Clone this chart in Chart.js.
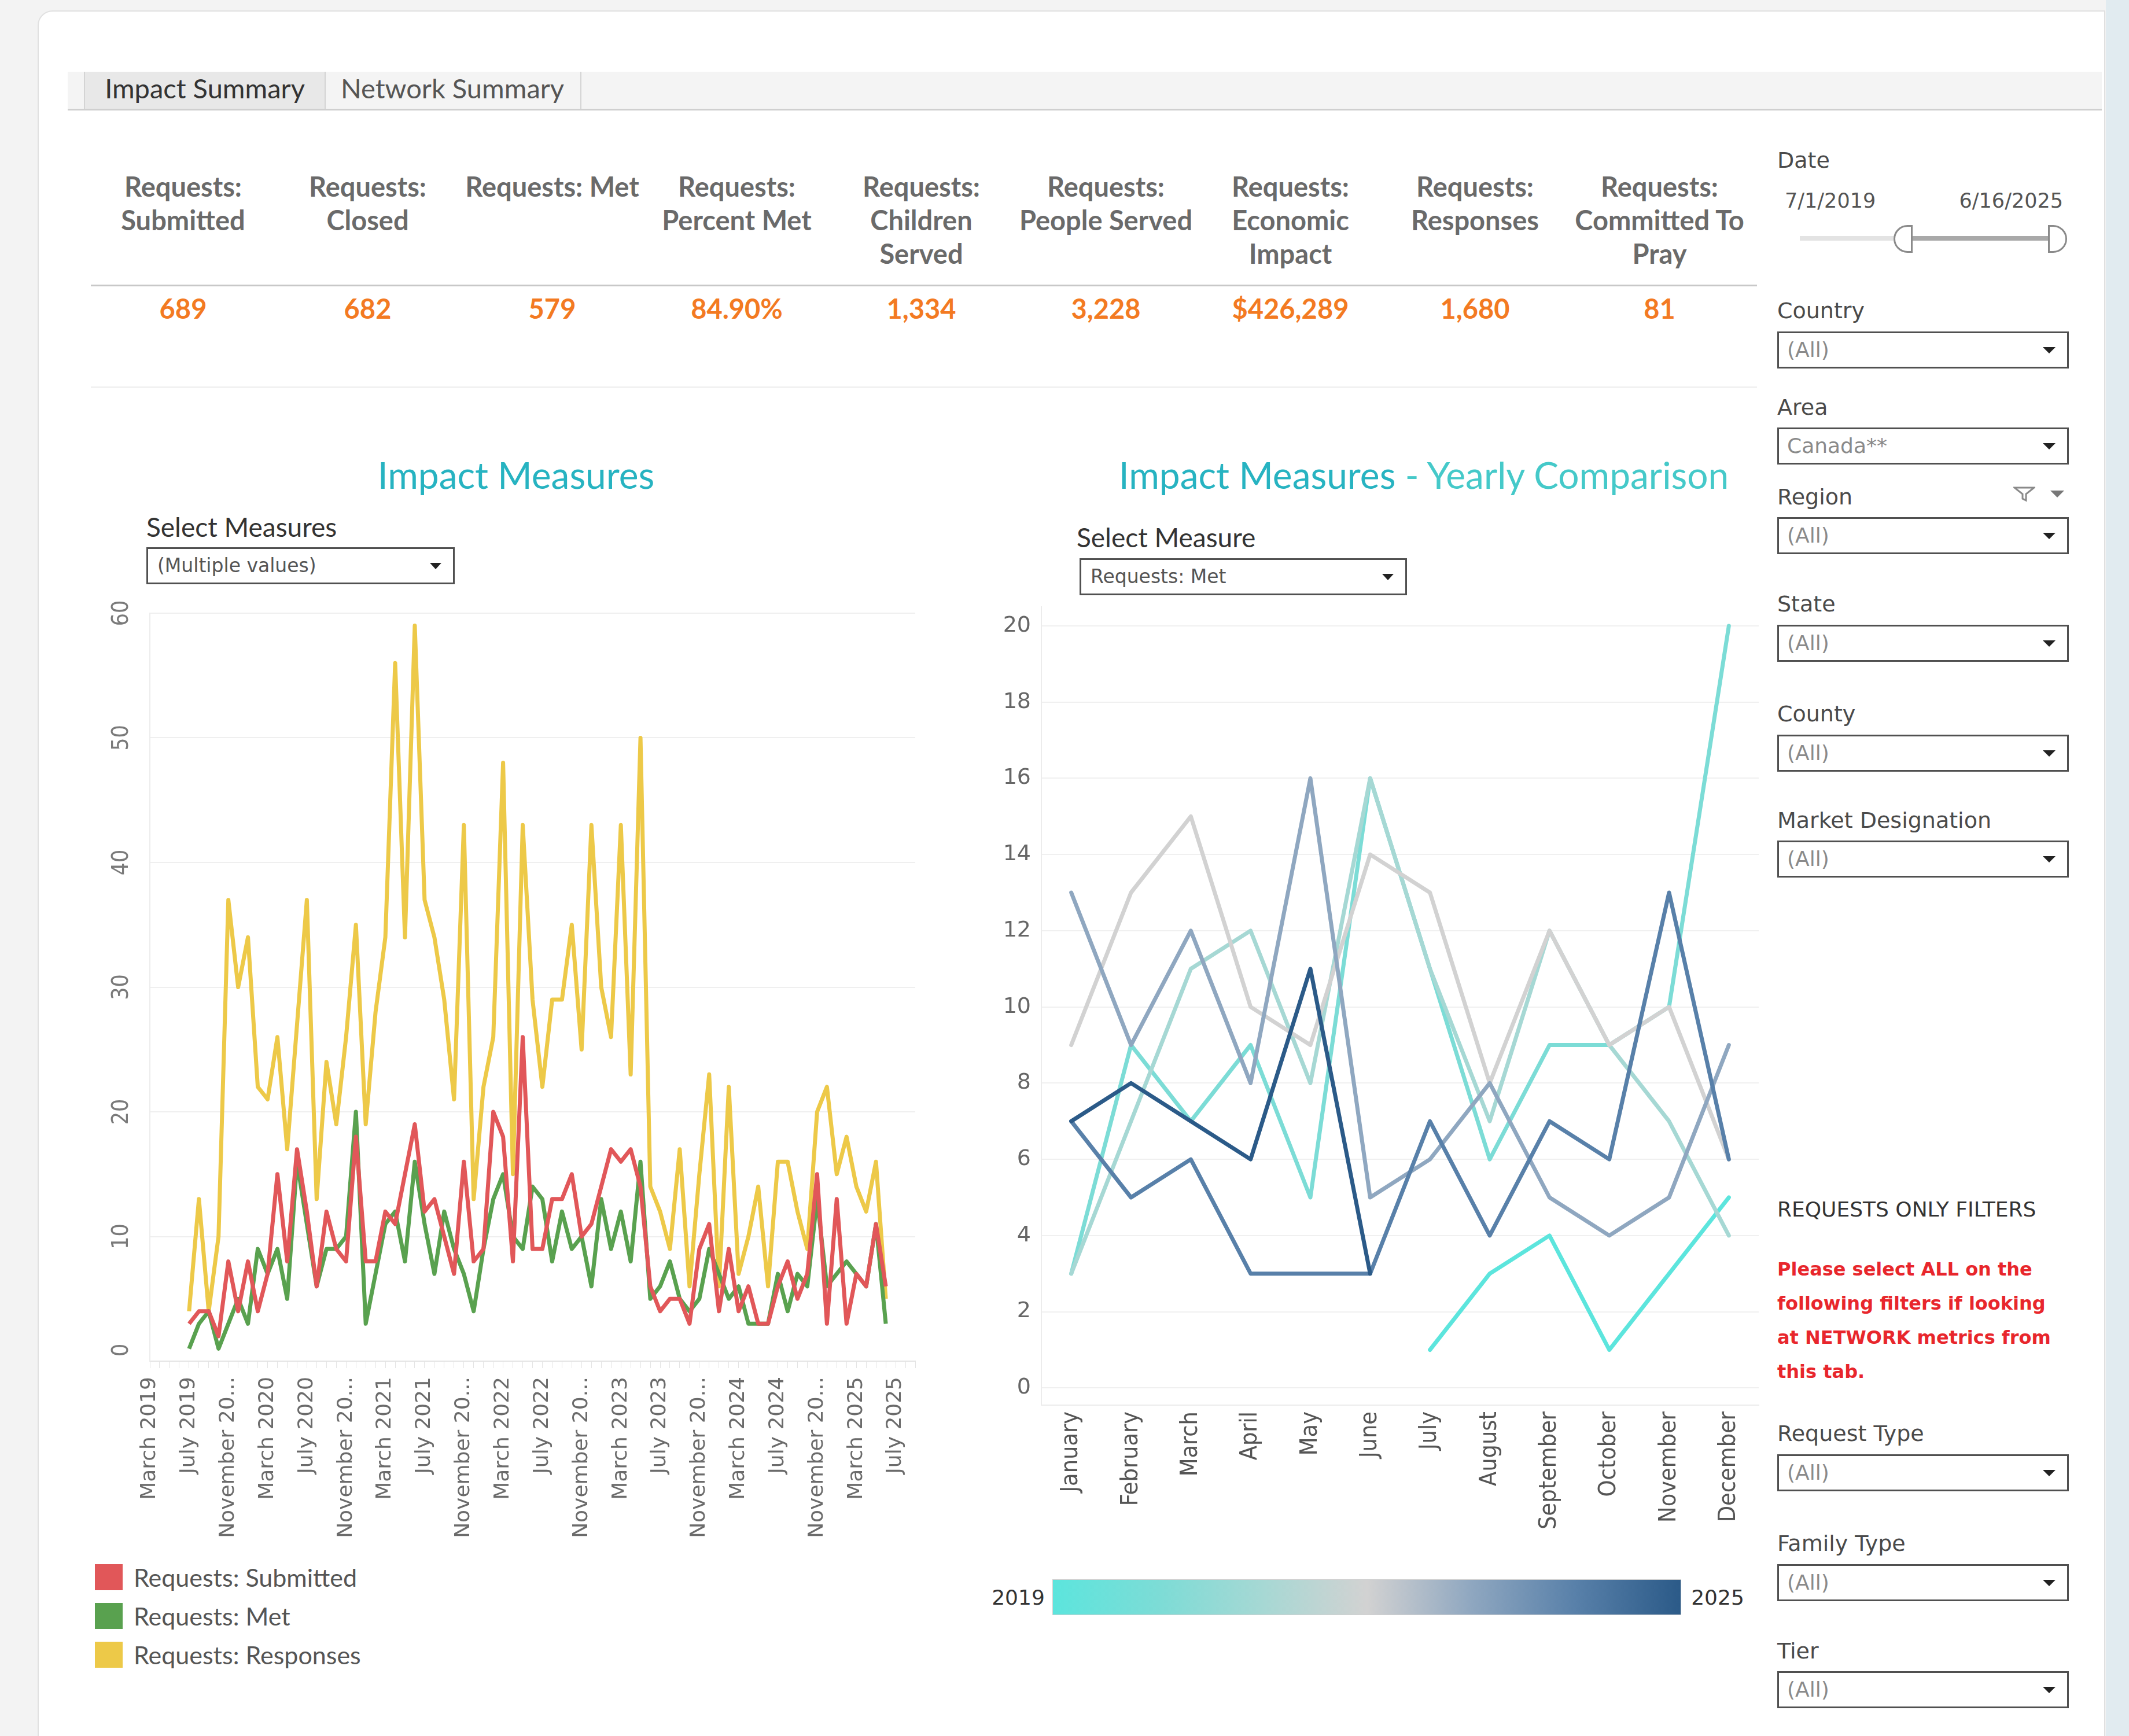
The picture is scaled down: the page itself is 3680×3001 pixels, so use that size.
<!DOCTYPE html>
<html><head><meta charset="utf-8">
<script src="https://cdn.jsdelivr.net/npm/chart.js@4.4.1/dist/chart.umd.min.js"></script>
<style>
html,body{margin:0;padding:0;}
body{width:3680px;height:3001px;position:relative;overflow:hidden;background:#f3f3f3;font-family:Lato,"DejaVu Sans",sans-serif;}
.abs{position:absolute;white-space:nowrap;}
#card{position:absolute;left:65px;top:18px;width:3574px;height:3100px;background:#fff;border:2px solid #e0e0e0;border-top-left-radius:26px;box-sizing:border-box;}
#strip{position:absolute;left:3640px;top:0;width:40px;height:3001px;background:#e1ebf0;}
#tabs{position:absolute;left:117px;top:124px;width:3516px;height:64px;background:#f4f4f4;border-bottom:3px solid #cfcfcf;}
.tab{position:absolute;top:0;height:64px;line-height:64px;text-align:center;font:47px Lato,sans-serif;color:#555;border-right:2px solid #d4d4d4;}
.kpiH{position:absolute;top:293px;width:319px;text-align:center;font:bold 47px Lato,sans-serif;line-height:58px;color:#6a6a6a;}
.kpiV{position:absolute;top:505px;width:319px;text-align:center;font:bold 47px Lato,sans-serif;line-height:56px;color:#f37a22;}
.flabel{position:absolute;left:3072px;font:38px "DejaVu Sans",sans-serif;color:#4a4a4a;line-height:46px;white-space:nowrap;}
.box{position:absolute;left:3072px;width:504px;height:64px;border:3px solid #505050;box-sizing:border-box;background:#fff;font:36px "DejaVu Sans",sans-serif;color:#8a8a8a;line-height:58px;padding-left:14px;white-space:nowrap;}
.box::after{content:"";position:absolute;right:20px;top:24px;border-left:11px solid transparent;border-right:11px solid transparent;border-top:11px solid #222;}
.sel{position:absolute;height:64px;border:3px solid #505050;box-sizing:border-box;background:#fff;font:33px "DejaVu Sans",sans-serif;color:#555;line-height:58px;padding-left:16px;white-space:nowrap;}
.sel::after{content:"";position:absolute;right:20px;top:24px;border-left:10px solid transparent;border-right:10px solid transparent;border-top:11px solid #222;}
.leg{position:absolute;left:164px;width:48px;height:45px;}
.legt{position:absolute;left:231px;font:43px Lato,sans-serif;color:#555;line-height:50px;white-space:nowrap;}
canvas{position:absolute;}
</style></head><body>
<div id="card"></div>
<div id="strip"></div>
<div id="tabs">
  <div class="tab" style="left:28px;width:414px;background:#e8e8e8;color:#333;border-left:2px solid #d4d4d4;">Impact Summary</div>
  <div class="tab" style="left:444px;width:442px;">Network Summary</div>
</div>
<div class="abs" style="left:157px;top:492px;width:2880px;height:3px;background:#c8c8c8;"></div>
<div class="abs" style="left:157px;top:668px;width:2880px;height:3px;background:#f1f1f1;"></div>

<div class="abs" style="left:892px;top:782px;transform:translateX(-50%);font:64px Lato,sans-serif;color:#27b3c1;line-height:78px;">Impact Measures</div>
<div class="abs" style="left:2461px;top:782px;transform:translateX(-50%);font:64px Lato,sans-serif;color:#27b3c1;line-height:78px;">Impact Measures<span style="color:#45c9c9"> - Yearly Comparison</span></div>

<div class="abs" style="left:253px;top:884px;font:46px Lato,sans-serif;color:#333;line-height:54px;">Select Measures</div>
<div class="sel" style="left:253px;top:946px;width:533px;">(Multiple values)</div>
<div class="abs" style="left:1861px;top:902px;font:46px Lato,sans-serif;color:#333;line-height:54px;">Select Measure</div>
<div class="sel" style="left:1866px;top:965px;width:566px;">Requests: Met</div>

<div id="gradBar" class="abs" style="left:1819px;top:2730px;width:1087px;height:62px;border:1px solid #d0d0d0;box-sizing:border-box;"></div>
<div class="abs" style="left:1760px;top:2740px;transform:translateX(-50%);font:36px 'DejaVu Sans',sans-serif;color:#333;line-height:44px;">2019</div>
<div class="abs" style="left:2969px;top:2740px;transform:translateX(-50%);font:36px 'DejaVu Sans',sans-serif;color:#333;line-height:44px;">2025</div>

<div class="flabel" style="top:254px;">Date</div>
<div class="abs" style="left:3085px;top:325px;font:35px 'DejaVu Sans',sans-serif;color:#555;line-height:44px;">7/1/2019</div>
<div class="abs" style="left:3566px;top:325px;transform:translateX(-100%);font:35px 'DejaVu Sans',sans-serif;color:#555;line-height:44px;">6/16/2025</div>
<div class="abs" style="left:3111px;top:408px;width:170px;height:8px;background:#e3e3e3;"></div>
<div class="abs" style="left:3300px;top:408px;width:245px;height:8px;background:#a9a9a9;"></div>
<div class="abs" style="left:3273px;top:389px;width:33px;height:48px;border:3px solid #8a8a8a;border-radius:24px 0 0 24px;background:#fff;box-sizing:border-box;"></div>
<div class="abs" style="left:3540px;top:389px;width:33px;height:48px;border:3px solid #8a8a8a;border-radius:0 24px 24px 0;background:#fff;box-sizing:border-box;"></div>
<svg class="abs" style="left:3480px;top:840px;" width="38" height="28"><path d="M2 3 H36 L22 14 V25 L16 22 V14 Z" fill="none" stroke="#8a8a8a" stroke-width="3"/></svg>
<div class="abs" style="left:3544px;top:848px;border-left:12px solid transparent;border-right:12px solid transparent;border-top:12px solid #777;"></div>
<div class="abs" style="left:3072px;top:2068px;font:36px 'DejaVu Sans',sans-serif;color:#333;line-height:46px;">REQUESTS ONLY FILTERS</div>
<div class="abs" style="left:3072px;top:2165px;font:bold 32px 'DejaVu Sans',sans-serif;color:#e8262c;line-height:59px;">Please select ALL on the<br>following filters if looking<br>at NETWORK metrics from<br>this tab.</div>

<canvas id="impactChart" width="1440" height="1670" style="left:160px;top:1030px;"></canvas>
<canvas id="yearChart" width="1370" height="1650" style="left:1690px;top:1030px;"></canvas>

<script>
// KPI strip
const kpiTitles = [
  ['Requests:', 'Submitted'], ['Requests:', 'Closed'], ['Requests: Met'], ['Requests:', 'Percent Met'],
  ['Requests:', 'Children', 'Served'], ['Requests:', 'People Served'], ['Requests:', 'Economic', 'Impact'],
  ['Requests:', 'Responses'], ['Requests:', 'Committed To', 'Pray']
];
const kpiValues = ['689', '682', '579', '84.90%', '1,334', '3,228', '$426,289', '1,680', '81'];

// monthly series, July 2019 .. June 2025
const firstMonth = 'July 2019';
const submitted = [3,4,4,2,8,4, 8,4,7,15,8,17,12,6,12,9,8,18, 8,8,12,11,15,19,12,13,10,7,16,8,
  9,20,18,8,26,9,9,13,13,15,10,11, 14,17,16,17,14,6,4,5,5,3,9,11, 4,9,4,6,3,3,6,8,5,7,15,3, 13,3,7,6,11,6];
const met = [1,3,4,1,3,5, 3,9,7,9,5,16,11,6,9,9,10,20, 3,7,11,12,8,16,11,7,12,9,7,4,
  9,13,15,10,9,14,13,8,12,9,10,6, 13,9,12,8,16,5,6,8,5,4,5,9, 7,5,6,3,3,3,7,4,7,6,13,6, 7,8,7,6,11,3];
const responses = [4,13,4,10,37,30, 34,22,21,26,17,27,37,13,24,19,26,35, 19,28,34,56,34,59,37,34,29,21,43,13,
  22,26,48,15,43,29,22,29,29,35,25,43, 30,26,43,23,50,14,12,9,17,6,15,23, 6,22,7,10,14,6,16,16,12,9,20,22, 15,18,14,12,16,5];

const seriesNames = ['Requests: Submitted', 'Requests: Met', 'Requests: Responses'];
const seriesColors = ['#e15759', '#59a14f', '#edc948'];

const monthNames = ['January','February','March','April','May','June','July','August','September','October','November','December'];
const years = [2019, 2020, 2021, 2022, 2023, 2024, 2025];
const yearColors = ['#5ce5dd', '#7cdcd6', '#a6d8d4', '#d2d2d2', '#8fa7c0', '#5880a9', '#2b5a88'];
const axisFirst = 'March 2019', axisLast = 'September 2025';

const allMonths = [];
years.forEach(y => monthNames.forEach(m => allMonths.push(m + ' ' + y)));
const axisMonths = allMonths.slice(allMonths.indexOf(axisFirst), allMonths.indexOf(axisLast) + 1);
const dataMonths = allMonths.slice(allMonths.indexOf(firstMonth), allMonths.indexOf(firstMonth) + met.length);
const onAxis = arr => axisMonths.map(l => { const i = dataMonths.indexOf(l); return i >= 0 ? arr[i] : null; });
const yearly = years.map(y => monthNames.map(m => { const i = dataMonths.indexOf(m + ' ' + y); return i >= 0 ? met[i] : null; }));

// page bits
const place = (html, cls, css) => { const d = document.createElement('div'); d.className = cls; d.style.cssText = css; d.innerHTML = html; document.body.appendChild(d); };
kpiTitles.forEach((t, i) => place(t.join('<br>'), 'kpiH', 'left:' + (157 + i * 319) + 'px'));
kpiValues.forEach((v, i) => place(v, 'kpiV', 'left:' + (157 + i * 319) + 'px'));
seriesNames.forEach((n, i) => {
  place('', 'leg', 'top:' + (2704 + i * 67) + 'px;background:' + seriesColors[i]);
  place(n, 'legt', 'top:' + (2702 + i * 67) + 'px');
});
const filters = [['Country', 514, 573, '(All)'], ['Area', 681, 739, 'Canada**'], ['Region', 836, 894, '(All)'],
  ['State', 1021, 1080, '(All)'], ['County', 1211, 1270, '(All)'], ['Market Designation', 1395, 1453, '(All)'],
  ['Request Type', 2455, 2514, '(All)'], ['Family Type', 2645, 2704, '(All)'], ['Tier', 2831, 2889, '(All)']];
filters.forEach(f => { place(f[0], 'flabel', 'top:' + f[1] + 'px'); place(f[3], 'box', 'top:' + f[2] + 'px'); });
document.getElementById('gradBar').style.background = 'linear-gradient(to right,' + yearColors.join(',') + ')';

function fitFont(text, family, target) {
  const c = document.createElement('canvas').getContext('2d');
  c.font = '100px ' + family;
  return Math.round(100 * target / c.measureText(text).width);
}
const narrow = '"Liberation Sans Narrow", "DejaVu Sans Condensed", sans-serif';
const yLabelSize = fitFont('60', narrow, 45);
const monthLabelSize = fitFont('September', narrow, 206);

const rotatedYLabels = {
  id: 'rotatedYLabels',
  afterDraw(chart) {
    const s = chart.scales.y, ctx = chart.ctx;
    ctx.save();
    ctx.font = yLabelSize + 'px ' + narrow;
    ctx.fillStyle = '#7a7a7a';
    ctx.textAlign = 'center'; ctx.textBaseline = 'middle';
    s.ticks.forEach(t => {
      const label = String(t.value);
      const half = ctx.measureText(label).width / 2;
      const y = Math.min(s.getPixelForValue(t.value), chart.chartArea.bottom - half - 8);
      ctx.save(); ctx.translate(51, y); ctx.rotate(-Math.PI / 2); ctx.fillText(label, 0, 0); ctx.restore();
    });
    ctx.restore();
  }
};

new Chart(document.getElementById('impactChart'), {
  type: 'line',
  data: {
    labels: axisMonths,
    datasets: [submitted, met, responses].map((arr, i) => ({
      label: seriesNames[i], data: onAxis(arr), borderColor: seriesColors[i], borderWidth: 7,
      pointRadius: 0, tension: 0, borderJoinStyle: 'round', order: i + 1
    }))
  },
  options: {
    responsive: false, animation: false, devicePixelRatio: 1,
    layout: { padding: { top: 30, right: 18, left: 0, bottom: 0 } },
    plugins: { legend: { display: false }, tooltip: { enabled: false } },
    scales: {
      x: {
        grid: { drawOnChartArea: false, drawTicks: true, tickLength: 12, color: '#e4e4e4' },
        border: { color: '#e4e4e4', width: 2 },
        ticks: {
          autoSkip: false, minRotation: 90, maxRotation: 90, padding: 15, color: '#6b6b6b',
          font: { family: 'DejaVu Sans', size: 36 },
          callback(v, i) { if (i % 4) return ''; const l = this.getLabelForValue(v); return l.length > 12 ? l.slice(0, 11) + '...' : l; }
        },
        afterFit(s) { s.height = 347; s.paddingLeft = 0; s.paddingRight = 0; }
      },
      y: {
        min: 0, max: 60,
        ticks: { display: false, stepSize: 10 },
        grid: { color: '#efefef', lineWidth: 2, drawTicks: false },
        border: { color: '#ececec', width: 2 },
        afterFit(s) { s.width = 99; s.paddingTop = 0; s.paddingBottom = 0; }
      }
    }
  },
  plugins: [rotatedYLabels]
});

new Chart(document.getElementById('yearChart'), {
  type: 'line',
  data: {
    labels: monthNames,
    datasets: yearly.map((arr, i) => ({
      label: String(years[i]), data: arr, borderColor: yearColors[i], borderWidth: 7,
      pointRadius: 0, tension: 0, borderJoinStyle: 'round', borderCapStyle: 'round', order: years.length - i
    }))
  },
  options: {
    responsive: false, animation: false, devicePixelRatio: 1,
    layout: { padding: { top: 19, right: 20, left: 0, bottom: 0 } },
    plugins: { legend: { display: false }, tooltip: { enabled: false } },
    scales: {
      x: {
        offset: true,
        grid: { display: false, drawTicks: false },
        border: { color: '#ececec', width: 2 },
        ticks: { autoSkip: false, minRotation: 90, maxRotation: 90, padding: 11, color: '#555',
          font: { family: narrow, size: monthLabelSize } },
        afterFit(s) { s.height = 251; s.paddingLeft = 0; s.paddingRight = 0; }
      },
      y: {
        min: -0.45, max: 20.5,
        ticks: { stepSize: 2, includeBounds: false, padding: 18, color: '#666', font: { family: 'DejaVu Sans', size: 38 } },
        grid: { color: '#f0f0f0', lineWidth: 2, drawTicks: false },
        border: { color: '#ececec', width: 2 },
        afterFit(s) { s.width = 110; s.paddingTop = 0; s.paddingBottom = 0; }
      }
    }
  }
});
</script>
</body></html>
